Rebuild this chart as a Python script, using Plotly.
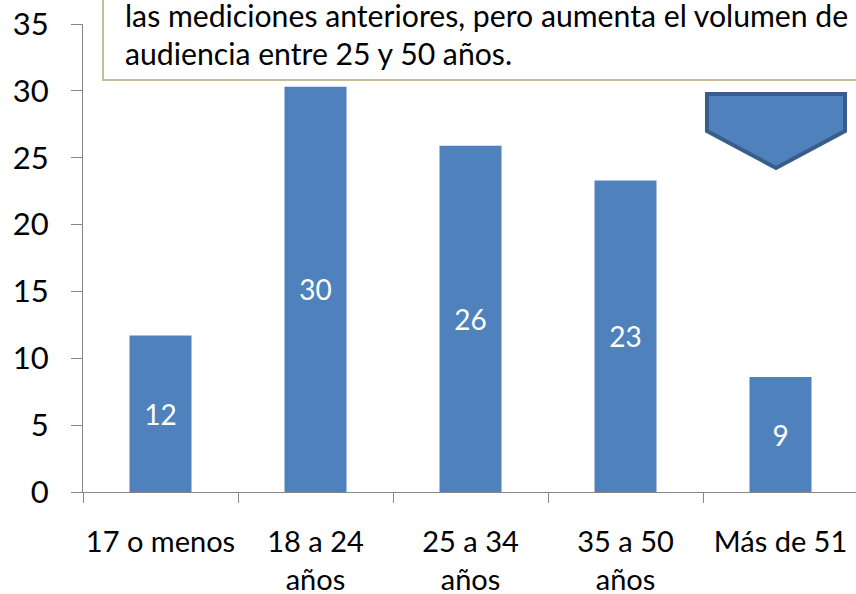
import plotly.graph_objects as go

# age groups and audience share (%)
categories = ['17 o menos', '18 a 24<br>años', '25 a 34<br>años', '35 a 50<br>años', 'Más de 51']
values = [11.7, 30.3, 25.9, 23.3, 8.6]
y_ticks = [0, 5, 10, 15, 20, 25, 30, 35]

note_lines = [
    'las mediciones anteriores, pero aumenta el volumen de',
    'audiencia entre 25 y 50 años.',
]

FONT = 'Lato'
AXIS_COLOR = '#868686'

fig = go.Figure()
fig.add_trace(go.Bar(
    x=categories,
    y=values,
    width=0.4,
    marker=dict(color='#4f81bd', line=dict(width=0)),
    texttemplate='%{y:.0f}',
    textposition='inside',
    insidetextanchor='middle',
    textfont=dict(family=FONT, size=28, color='white'),
    hoverinfo='skip',
))

fig.update_layout(
    width=856, height=594,
    margin=dict(l=83, r=0, t=24, b=102, autoexpand=False),
    paper_bgcolor='white',
    plot_bgcolor='white',
    showlegend=False,
    bargap=0.6,
    font=dict(family=FONT, color='black'),
)

fig.update_xaxes(
    type='category',
    range=[-0.5, 4.487],
    tickson='boundaries',
    tickangle=0,
    ticks='outside', ticklen=10, tickcolor=AXIS_COLOR, tickwidth=1,
    showline=True, linecolor=AXIS_COLOR, linewidth=1,
    showgrid=False, automargin=False,
    tickfont=dict(family=FONT, size=29, color='black'),
    ticklabelstandoff=24,
)
fig.update_yaxes(
    range=[0, 35],
    tickvals=y_ticks,
    ticks='outside', ticklen=11, tickcolor=AXIS_COLOR, tickwidth=1,
    showline=True, linecolor=AXIS_COLOR, linewidth=1,
    showgrid=False, zeroline=False, automargin=False,
    ticklabeloverflow='allow',
    tickfont=dict(family=FONT, size=31, color='black'),
    ticklabelstandoff=16,
)

# callout text box (partially cut off at the top)
fig.add_shape(type='rect', xref='paper', yref='paper',
              x0=0.0259, x1=1.01, y0=0.8803, y1=1.07,
              line=dict(color='#c4bd97', width=2), fillcolor='white', layer='above')
for line, ypos in zip(note_lines, [1.019, 0.937]):
    fig.add_annotation(xref='paper', yref='paper', x=0.0517, y=ypos,
                       text=line, showarrow=False, xanchor='left', yanchor='middle',
                       font=dict(family=FONT, size=30.2, color='black'))

# downward arrow
fig.add_shape(type='path', xref='paper', yref='paper',
              path='M 0.8072 0.8504 L 0.9858 0.8504 L 0.9858 0.7714 L 0.8965 0.6923 L 0.8072 0.7714 Z',
              fillcolor='#4f81bd', line=dict(color='#385d8a', width=4), layer='above')

# drop the default page margin so the figure sits at the window's corner
fig.write_html("out.html", config={'displayModeBar': False},
               post_script="document.body.style.margin='0';")
